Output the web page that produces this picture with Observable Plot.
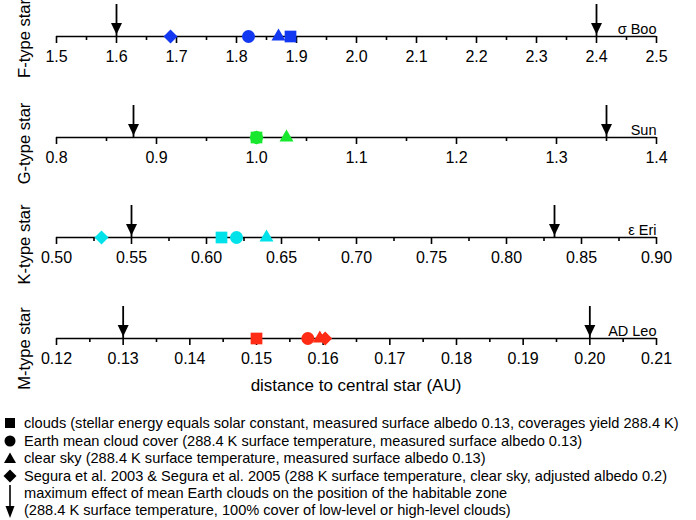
<!DOCTYPE html>
<html><head><meta charset="utf-8">
<script src="https://cdn.jsdelivr.net/npm/d3@7"></script>
<script src="https://cdn.jsdelivr.net/npm/@observablehq/plot@0.6"></script>
<style>
body{margin:0;background:#fff;font-family:"Liberation Sans",Arial,sans-serif;color:#000}
#wrap{position:relative;width:696px;height:520px;overflow:hidden}
.panel{position:absolute;left:0}
#xtitle{position:absolute;left:56px;width:600px;top:376px;text-align:center;font-size:17px;line-height:19px}
.leg{position:absolute;left:24px;font-size:14.6px;line-height:17px;white-space:nowrap}
.sym{position:absolute;left:0}
</style></head><body><div id="wrap"></div>
<script>
// ---- data ----
const starTypes = ["F-type star", "G-type star", "K-type star", "M-type star"];
const starNames = ["σ Boo", "Sun", "ε Eri", "AD Leo"];
const colors = ["#1238f2", "#17e82e", "#00e2ea", "#ff2b14"];
const ticksF = [1.5, 1.6, 1.7, 1.8, 1.9, 2.0, 2.1, 2.2, 2.3, 2.4, 2.5];
const ticksG = [0.8, 0.9, 1.0, 1.1, 1.2, 1.3, 1.4];
const ticksK = [0.50, 0.55, 0.60, 0.65, 0.70, 0.75, 0.80, 0.85, 0.90];
const ticksM = [0.12, 0.13, 0.14, 0.15, 0.16, 0.17, 0.18, 0.19, 0.20, 0.21];
const tickFormats = [".1f", ".1f", ".2f", ".2f"];
// series (F, G, K, M)
const cloudsSquare   = [1.89, 1.00, 0.61, 0.150];
const meanCloudCircle = [1.82, 1.00, 0.62, 0.1577];
const clearSkyTriangle = [1.87, 1.03, 0.64, 0.1595];
const seguraDiamond  = [1.69, 1.00, 0.53, 0.1603];
const arrowInner = [1.60, 0.877, 0.55, 0.130];
const arrowOuter = [2.40, 1.35, 0.832, 0.200];
const legendLabels = [
  "clouds (stellar energy equals solar constant, measured surface albedo 0.13, coverages yield 288.4 K)",
  "Earth mean cloud cover (288.4 K surface temperature, measured surface albedo 0.13)",
  "clear sky (288.4 K surface temperature, measured surface albedo 0.13)",
  "Segura et al. 2003 & Segura et al. 2005 (288 K surface temperature, clear sky, adjusted albedo 0.2)",
  "maximum effect of mean Earth clouds on the position of the habitable zone",
  "(288.4 K surface temperature, 100% cover of low-level or high-level clouds)"
];
const xTitle = "distance to central star (AU)";

// ---- layout ----
const tickSets = [ticksF, ticksG, ticksK, ticksM];
const panelTops = [0, 101, 201, 302];
const labelDy = [2, 6, 7, 10];
const font = '"Liberation Sans", Arial, sans-serif';
const downHead = {draw(ctx) { ctx.moveTo(0, -2); ctx.lineTo(-5.5, -13.5); ctx.lineTo(5.5, -13.5); ctx.closePath(); }};
const wrap = document.getElementById("wrap");

tickSets.forEach((ticks, i) => {
  const minors = d3.pairs(ticks, (a, b) => (a + b) / 2);
  const col = colors[i];
  const xmax = ticks[ticks.length - 1];
  const svg = Plot.plot({
    width: 696, height: 100,
    marginLeft: 56, marginRight: 40, marginTop: 4, marginBottom: 64,
    style: {fontFamily: font, fontSize: "16px", color: "#000", background: "transparent", overflow: "visible"},
    x: {domain: [ticks[0], xmax]},
    y: {domain: [0, 1], axis: null},
    marks: [
      Plot.axisX(minors, {tickSize: 4, tickFormat: () => "", strokeWidth: 1.6, label: null}),
      Plot.axisX(ticks, {tickSize: 7, tickPadding: 7, tickFormat: d3.format(tickFormats[i]), strokeWidth: 1.6, fontSize: 16, label: null}),
      Plot.ruleY([0], {strokeWidth: 1.6}),
      Plot.ruleX([arrowInner[i], arrowOuter[i]], {x: d => d, y1: 1, y2: 0, strokeWidth: 1.8}),
      Plot.dot([arrowInner[i], arrowOuter[i]], {x: d => d, y: () => 0, symbol: downHead, r: 5, fill: "#000", stroke: null}),
      Plot.dot([clearSkyTriangle[i]], {x: d => d, y: () => 0, symbol: "triangle", r: 5.2, fill: col, stroke: null}),
      Plot.dot([meanCloudCircle[i]], {x: d => d, y: () => 0, symbol: "circle", r: 6.5, fill: col, stroke: null}),
      Plot.dot([cloudsSquare[i]], {x: d => d, y: () => 0, symbol: "square", r: 6.6, fill: col, stroke: null}),
      Plot.dot([seguraDiamond[i]], {x: d => d, y: () => 0, symbol: "diamond2", r: 6.3, fill: col, stroke: null}),
      Plot.text([starNames[i]], {x: () => xmax, y: () => 0, textAnchor: "end", lineAnchor: "bottom", dy: -3, fontSize: 14.5}),
      Plot.text([starTypes[i]], {frameAnchor: "left", y: () => 0, rotate: -90, textAnchor: "middle", lineAnchor: "middle", dx: -32, dy: labelDy[i], fontSize: 16.5})
    ]
  });
  svg.classList.add("panel");
  svg.style.top = panelTops[i] + "px";
  wrap.appendChild(svg);
});

const xt = document.createElement("div");
xt.id = "xtitle"; xt.textContent = xTitle; wrap.appendChild(xt);

// legend
const rowY = [423, 441, 458, 476, 493, 510];
const symSvg = [
  '<rect x="5" y="-5" width="10" height="10"/>',
  '<circle cx="10" cy="0" r="5.5"/>',
  '<path d="M10,-5.5L16,5L4,5Z"/>',
  '<path d="M10,-6.5L16.5,0L10,6.5L3.5,0Z"/>'
];
const legSvg = document.createElementNS("http://www.w3.org/2000/svg", "svg");
legSvg.setAttribute("width", 22); legSvg.setAttribute("height", 520);
legSvg.setAttribute("class", "sym"); legSvg.style.top = "0px";
let inner = "";
symSvg.forEach((s, k) => { inner += `<g transform="translate(0,${rowY[k]})">${s}</g>`; });
inner += `<line x1="10" x2="10" y1="485" y2="510" stroke="#000" stroke-width="1.6"/><path d="M10,518L5.5,506L14.5,506Z"/>`;
legSvg.innerHTML = inner;
wrap.appendChild(legSvg);
legendLabels.forEach((t, k) => {
  const d = document.createElement("div");
  d.className = "leg"; d.textContent = t;
  d.style.top = (rowY[k] - 8.5) + "px";
  wrap.appendChild(d);
});
</script></body></html>
